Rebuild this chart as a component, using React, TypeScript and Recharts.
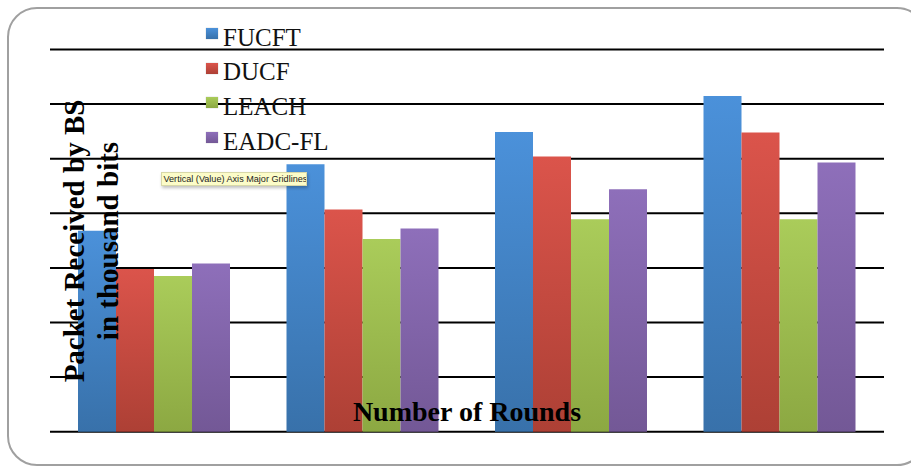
import { BarChart, Bar, XAxis, YAxis, CartesianGrid } from 'recharts'

// rounds (labels are not shown on the picture)
const rounds = ['R1', 'R2', 'R3', 'R4']

// packets received by BS, thousand bits
const fucft = [36.8, 49.0, 54.9, 61.5]
const ducf = [29.8, 40.7, 50.4, 54.8]
const leach = [28.5, 35.3, 38.9, 38.9]
const eadcfl = [30.8, 37.2, 44.4, 49.3]

const yTicks = [0, 10, 20, 30, 40, 50, 60, 70]

const SERIES = [
  { key: 'FUCFT', values: fucft, top: '#4b91da', bottom: '#3871aa' },
  { key: 'DUCF', values: ducf, top: '#db544b', bottom: '#ad4035' },
  { key: 'LEACH', values: leach, top: '#aacc5a', bottom: '#8ca842' },
  { key: 'EADC-FL', values: eadcfl, top: '#8e6fba', bottom: '#735896' },
]

const data = rounds.map((r, i) => {
  const row: Record<string, any> = { round: r }
  SERIES.forEach(s => { row[s.key] = s.values[i] })
  return row
})

const serif = '"Liberation Serif", "Times New Roman", serif'

export default function App() {
  return (
    <div style={{ position: 'absolute', left: 0, top: 0, width: 911, height: 470, overflow: 'hidden', background: '#fff' }}>
      {/* rounded frame */}
      <div style={{
        position: 'absolute', left: 7, top: 7, width: 920, height: 459,
        border: '2px solid #a0a0a0', borderRadius: 30, boxSizing: 'border-box',
      }} />

      <div style={{ position: 'absolute', left: 0, top: 0 }}>
        <BarChart
          width={911}
          height={470}
          data={data}
          margin={{ top: 49.5, right: 27, bottom: 38.3, left: 50 }}
          barCategoryGap={28}
          barGap={0}
        >
          <defs>
            {SERIES.map((s, i) => (
              <linearGradient key={s.key} id={`g-${i}`} x1="0" y1="0" x2="0" y2="1">
                <stop offset="0%" stopColor={s.top} />
                <stop offset="100%" stopColor={s.bottom} />
              </linearGradient>
            ))}
          </defs>
          <CartesianGrid vertical={false} stroke="#000" strokeWidth={2} />
          <XAxis dataKey="round" hide />
          <YAxis hide domain={[0, 70]} ticks={yTicks} />
          {SERIES.map((s, i) => (
            <Bar key={s.key} dataKey={s.key} fill={`url(#g-${i})`} isAnimationActive={false} />
          ))}
        </BarChart>
      </div>

      {/* legend */}
      <div style={{ position: 'absolute', left: 206, top: 19.6, fontFamily: serif, fontSize: 25, color: '#111' }}>
        {SERIES.map(s => (
          <div key={s.key} style={{ height: 34.7, lineHeight: '35px', position: 'relative', paddingLeft: 17, whiteSpace: 'nowrap' }}>
            <div style={{
              position: 'absolute', left: 0, top: 8.4, width: 12, height: 11,
              background: `linear-gradient(${s.top}, ${s.bottom})`, boxShadow: '0 0 1px rgba(0,0,0,0.3)',
            }} />
            {s.key}
          </div>
        ))}
      </div>

      {/* y axis title */}
      <div style={{
        position: 'absolute', left: 90.8, top: 241, width: 320,
        transform: 'translate(-50%, -50%) rotate(-90deg)',
        fontFamily: serif, fontWeight: 'bold', fontSize: 29, lineHeight: '34px',
        textAlign: 'center', color: '#000', whiteSpace: 'nowrap',
      }}>
        <div>Packet Received by BS</div>
        <div>in thousand bits</div>
      </div>

      {/* x axis title */}
      <div style={{
        position: 'absolute', left: 267, top: 397.9, width: 400, textAlign: 'center',
        fontFamily: serif, fontWeight: 'bold', fontSize: 28, lineHeight: '28px', color: '#000',
      }}>
        Number of Rounds
      </div>

      {/* hover hint */}
      <div style={{
        position: 'absolute', left: 161, top: 171.5, width: 146, height: 14, boxSizing: 'border-box',
        background: '#fcfcc8', border: '1px solid #d8d8a8', boxShadow: '1px 2px 3px rgba(0,0,0,0.25)',
        fontFamily: '"Liberation Sans", Arial, sans-serif', fontSize: 9.1, lineHeight: '12px',
        color: '#222', paddingLeft: 1.5, whiteSpace: 'nowrap', overflow: 'hidden',
      }}>
        Vertical (Value) Axis Major Gridlines
      </div>
    </div>
  )
}
